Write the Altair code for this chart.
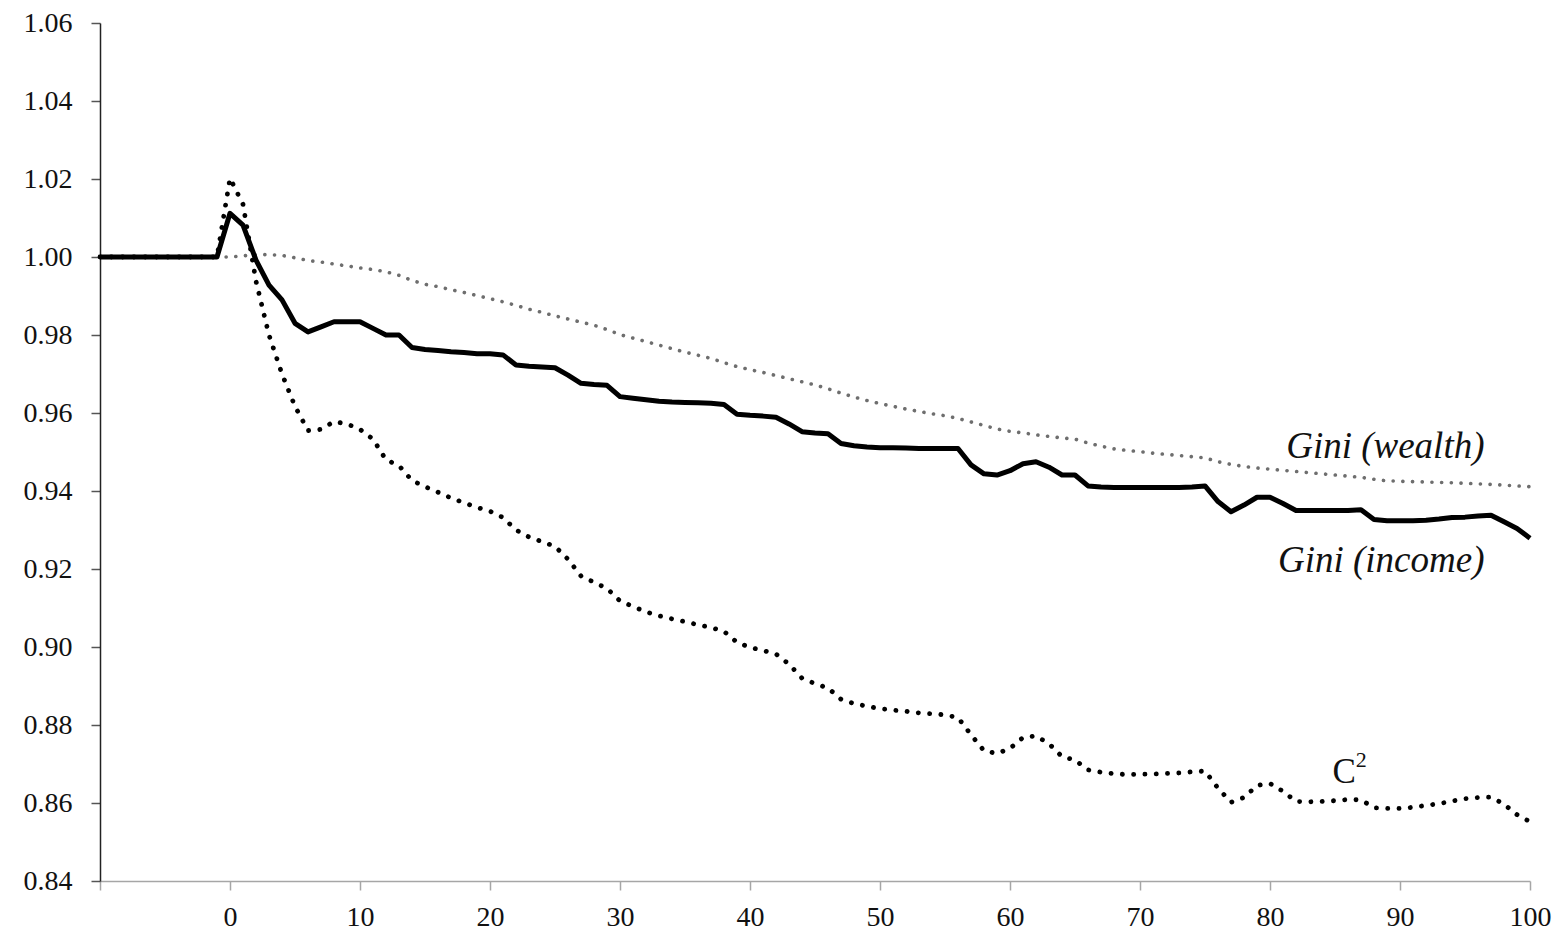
import altair as alt
import pandas as pd

# x positions (periods), -10 .. 100
x_vals = list(range(-10, 101))

gini_income = [1.0] * 10 + [
    1.0112, 1.0082, 0.9992, 0.9928, 0.9890, 0.9830, 0.9808, 0.9821, 0.9834, 0.9834,
    0.9834, 0.9817, 0.9800, 0.9800, 0.9768, 0.9763, 0.9760, 0.9757, 0.9755, 0.9752,
    0.9752, 0.9749, 0.9723, 0.9720, 0.9718, 0.9716, 0.9697, 0.9676, 0.9673, 0.9671,
    0.9642, 0.9638, 0.9634, 0.9630, 0.9628, 0.9627, 0.9626, 0.9625, 0.9622, 0.9597,
    0.9594, 0.9592, 0.9589, 0.9572, 0.9552, 0.9549, 0.9547, 0.9522, 0.9516, 0.9513,
    0.9511, 0.9511, 0.9510, 0.9509, 0.9509, 0.9509, 0.9509, 0.9467, 0.9444, 0.9441,
    0.9452, 0.9470, 0.9475, 0.9461, 0.9441, 0.9441, 0.9413, 0.9410, 0.9409, 0.9409,
    0.9409, 0.9409, 0.9409, 0.9409, 0.9410, 0.9413, 0.9373, 0.9347, 0.9364, 0.9384,
    0.9384, 0.9368, 0.9350, 0.9350, 0.9350, 0.9350, 0.9350, 0.9352, 0.9327, 0.9324,
    0.9324, 0.9324, 0.9325, 0.9328, 0.9332, 0.9333, 0.9336, 0.9338, 0.9321, 0.9304,
    0.9279,
]

gini_wealth = [1.0] * 11 + [
    1.0003, 1.0006, 1.0006, 1.0004, 0.9998, 0.9991, 0.9987, 0.9982, 0.9977,
    0.9972, 0.9968, 0.9962, 0.9953, 0.9940, 0.9930, 0.9924, 0.9916, 0.9909, 0.9901,
    0.9893, 0.9885, 0.9876, 0.9866, 0.9858, 0.9849, 0.9841, 0.9833, 0.9825, 0.9814,
    0.9801, 0.9792, 0.9783, 0.9774, 0.9765, 0.9756, 0.9748, 0.9740, 0.9729, 0.9719,
    0.9711, 0.9704, 0.9696, 0.9688, 0.9680, 0.9672, 0.9662, 0.9651, 0.9641, 0.9632,
    0.9624, 0.9617, 0.9610, 0.9604, 0.9598, 0.9593, 0.9586, 0.9577, 0.9568, 0.9559,
    0.9553, 0.9549, 0.9544, 0.9540, 0.9536, 0.9533, 0.9523, 0.9515, 0.9508, 0.9504,
    0.9501, 0.9497, 0.9494, 0.9491, 0.9488, 0.9485, 0.9475, 0.9468, 0.9463, 0.9459,
    0.9456, 0.9453, 0.9450, 0.9447, 0.9444, 0.9441, 0.9438, 0.9435, 0.9430, 0.9426,
    0.9425, 0.9424, 0.9423, 0.9422, 0.9421, 0.9420, 0.9418, 0.9417, 0.9415, 0.9413,
    0.9411,
]

c2 = [1.0] * 10 + [
    1.0202, 1.0135, 0.9938, 0.9800, 0.9700, 0.9617, 0.9555, 0.9558, 0.9578, 0.9572,
    0.9558, 0.9533, 0.9480, 0.9465, 0.9427, 0.9411, 0.9397, 0.9382, 0.9370, 0.9358,
    0.9348, 0.9332, 0.9300, 0.9282, 0.9270, 0.9258, 0.9225, 0.9182, 0.9166, 0.9150,
    0.9118, 0.9104, 0.9090, 0.9080, 0.9072, 0.9065, 0.9057, 0.9050, 0.9040, 0.9012,
    0.8999, 0.8991, 0.8982, 0.8956, 0.8920, 0.8906, 0.8895, 0.8866, 0.8855, 0.8848,
    0.8842, 0.8838, 0.8835, 0.8831, 0.8829, 0.8826, 0.8819, 0.8775, 0.8734, 0.8727,
    0.8740, 0.8768, 0.8772, 0.8752, 0.8719, 0.8710, 0.8685, 0.8679, 0.8675, 0.8673,
    0.8674, 0.8674, 0.8676, 0.8677, 0.8680, 0.8682, 0.8638, 0.8602, 0.8614, 0.8645,
    0.8650, 0.8630, 0.8604, 0.8603, 0.8604, 0.8606, 0.8609, 0.8608, 0.8588, 0.8586,
    0.8586, 0.8589, 0.8594, 0.8598, 0.8605, 0.8611, 0.8614, 0.8615, 0.8597, 0.8570,
    0.8552,
]

# annotation labels (anchored in data coordinates)
label_text = ["Gini (wealth)", "Gini (income)"]
label_x = [96.5, 96.5]
label_y = [0.9485, 0.9193]
c_text = ["C"]
c_x = [84.8]
c_y = [0.8651]
sup_text = ["2"]
sup_x = [86.6]
sup_y = [0.8693]

x_ticks = [-10, 0, 10, 20, 30, 40, 50, 60, 70, 80, 90, 100]
y_ticks = [0.84, 0.86, 0.88, 0.90, 0.92, 0.94, 0.96, 0.98, 1.00, 1.02, 1.04, 1.06]

df = pd.DataFrame({"x": x_vals, "income": gini_income, "wealth": gini_wealth, "c2": c2})

xs = alt.Scale(domain=[-10, 100], nice=False, zero=False)
ys = alt.Scale(domain=[0.84, 1.06], nice=False, zero=False)

FONT = "Liberation Serif"

x_axis = alt.Axis(
    values=x_ticks,
    labelExpr="datum.value < 0 ? '' : datum.label",
    title=None,
    grid=False,
    domainColor="#a6a6a6",
    tickColor="#a6a6a6",
    domainWidth=1.5,
    tickWidth=1.5,
    tickSize=9,
    labelFont=FONT,
    labelFontSize=28,
    labelColor="#111111",
    labelPadding=13,
    labelFlush=False,
    labelOverlap=False,
)
y_axis = alt.Axis(
    values=y_ticks,
    format=".2f",
    title=None,
    grid=False,
    domainColor="#222222",
    tickColor="#555555",
    domainWidth=1.5,
    tickWidth=1.5,
    tickSize=9,
    labelFont=FONT,
    labelFontSize=28,
    labelColor="#111111",
    labelPadding=19,
    labelOverlap=False,
)

base = alt.Chart(df)

wealth_line = base.mark_line(
    color="#6e6e6e", strokeWidth=3.6, strokeDash=[0.1, 9.6], strokeCap="round"
).encode(x=alt.X("x:Q", scale=xs, axis=x_axis), y=alt.Y("wealth:Q", scale=ys, axis=y_axis))

c2_line = base.mark_line(
    color="#000000", strokeWidth=4.8, strokeDash=[0.1, 11.2], strokeCap="round"
).encode(x=alt.X("x:Q", scale=xs), y=alt.Y("c2:Q", scale=ys))

income_line = base.mark_line(
    color="#000000", strokeWidth=5, strokeJoin="round"
).encode(x=alt.X("x:Q", scale=xs), y=alt.Y("income:Q", scale=ys))

lab_df = pd.DataFrame({"t": label_text, "x": label_x, "y": label_y})
labels = alt.Chart(lab_df).mark_text(
    font=FONT, fontSize=37, fontStyle="italic", align="right", baseline="alphabetic", color="#111111"
).encode(x=alt.X("x:Q", scale=xs), y=alt.Y("y:Q", scale=ys), text="t:N")

c_df = pd.DataFrame({"t": c_text, "x": c_x, "y": c_y})
c_label = alt.Chart(c_df).mark_text(
    font=FONT, fontSize=35, align="left", baseline="alphabetic", color="#111111"
).encode(x=alt.X("x:Q", scale=xs), y=alt.Y("y:Q", scale=ys), text="t:N")

s_df = pd.DataFrame({"t": sup_text, "x": sup_x, "y": sup_y})
s_label = alt.Chart(s_df).mark_text(
    font=FONT, fontSize=22, align="left", baseline="alphabetic", color="#111111"
).encode(x=alt.X("x:Q", scale=xs), y=alt.Y("y:Q", scale=ys), text="t:N")

chart = (
    alt.layer(wealth_line, c2_line, income_line, labels, c_label, s_label)
    .properties(
        width=1430,
        height=858,
        background="white",
        autosize=alt.AutoSizeParams(type="none"),
        padding={"left": 92, "top": 15, "right": 22, "bottom": 50},
    )
    .configure_view(stroke=None)
)

chart.save("out.html", embed_options={"renderer": "svg", "actions": False})
